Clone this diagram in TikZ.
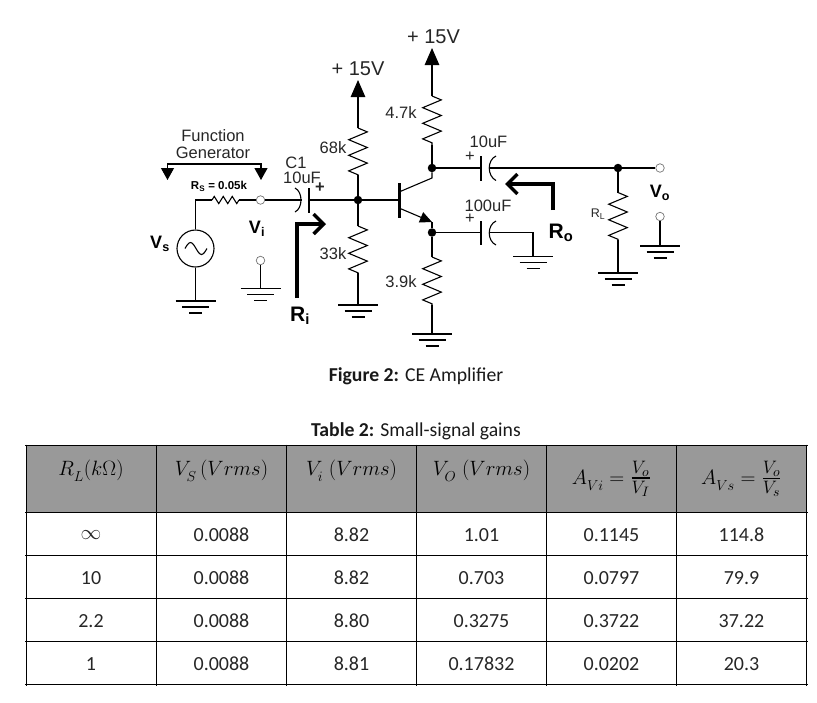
\documentclass[tikz,border=0pt]{standalone}
\usepackage{amsmath}
\usepackage{fontspec}
\setmainfont{Carlito}
\newfontfamily\labfont{Liberation Sans}
\usetikzlibrary{arrows.meta,decorations.pathmorphing}

\newcommand\lowsub[1]{_{\raisebox{-2.5pt}{$\scriptstyle #1$}}}

\tikzset{
  wire/.style={line width=1.1pt,line join=miter},
  res/.style={wire,decorate,decoration={zigzag,segment length=15.6,amplitude=9.3}},
  ressmall/.style={wire,decorate,decoration={zigzag,segment length=9,amplitude=3.6}},
  dot/.style={circle,fill=black,inner sep=0pt,minimum size=8.5pt},
  term/.style={circle,draw=black!55,fill=white,line width=0.7pt,inner sep=0pt,minimum size=8.5pt},
  lab/.style={inner sep=0pt,text=black!85,font=\labfont\fontsize{16.5}{18}\selectfont},
  biglab/.style={inner sep=0pt,text=black!85,font=\labfont\fontsize{20}{22}\selectfont},
  boldlab/.style={inner sep=0pt,font=\labfont\bfseries\fontsize{18}{20}\selectfont},
  rlab/.style={inner sep=0pt,font=\labfont\bfseries\fontsize{21}{23}\selectfont},
  thick arrow/.style={line width=3.6pt,line join=miter,-{Straight Barb[length=10pt,width=20pt,line width=3.4pt]}},
  supply/.style={wire,-{Triangle[length=17pt,width=14.5pt]}},
  cell/.style={inner sep=0pt,text=black!85,font=\fontsize{20}{22}\selectfont},
  headcell/.style={inner sep=0pt,text=black,font=\fontsize{20}{24}\selectfont},
  gaincell/.style={inner sep=0pt,text=black,font=\fontsize{21}{24}\selectfont},
  caption/.style={inner sep=0pt,text=black!90,font=\fontsize{19.7}{22}\selectfont},
  pics/gnd/.style={code={
    \draw[wire] (-20,0) -- (20,0);
    \draw[wire] (-13.5,6) -- (13.5,6);
    \draw[wire] (-6.5,12) -- (6.5,12);
  }},
}

\begin{document}
\begin{tikzpicture}[x=1pt,y=-1pt]
  \useasboundingbox (0,0) rectangle (817,702);

  % source side
  \node (vs) [circle,draw,line width=1.1pt,minimum size=37pt,inner sep=0pt] at (195.5,248.5) {};
  \draw[wire] (185,248.5) sin (190.5,242.5) cos (196,248.5) sin (201.5,254.5) cos (207,248.5);
  \coordinate (corner) at (195.5,200);
  \coordinate (rsa) at (212,200);
  \coordinate (rsb) at (239,200);
  \coordinate (gndvs) at (195.5,301);
  \node (vi1) [term] at (260.5,200) {};
  \node (vi2) [term] at (260.5,260.5) {};
  \coordinate (gndvi) at (260.5,288.5);
  \draw[wire] (vs) -- (corner) -- (rsa);
  \draw[ressmall] (rsa) -- (rsb);
  \draw[wire] (rsb) -- (vi1);
  \draw[wire] (vs) -- (gndvs);
  \draw[wire] (vi2) -- (gndvi);
  \pic at (gndvs) {gnd};
  \pic at (gndvi) {gnd};

  % function generator bracket
  \coordinate (fgl) at (167.5,164);
  \coordinate (fgr) at (261,164);
  \coordinate (fgla) at (167.5,180);
  \coordinate (fgra) at (261,180);
  \draw[wire,{Triangle[length=12pt,width=13pt]}-{Triangle[length=12pt,width=13pt]}] (fgla) -- (fgl) -- (fgr) -- (fgra);

  % input capacitor and bias divider
  \coordinate (c1a) at (302,200);
  \coordinate (c1b) at (309,200);
  \node (j1) [dot] at (358,200) {};
  \draw[wire] (vi1) -- (c1a);
  \draw[wire] (295,188) .. controls (303,192) and (303,208) .. (295,212);
  \draw[wire] (309,188) -- (309,212.5);
  \draw[wire] (c1b) -- (j1);
  \coordinate (tip1) at (358,80);
  \coordinate (r68a) at (358,128);
  \coordinate (r68b) at (358,175);
  \coordinate (r33a) at (358,226);
  \coordinate (r33b) at (358,273);
  \coordinate (gndb) at (358,305);
  \draw[supply] (r68a) -- (tip1);
  \draw[res] (r68a) -- (r68b);
  \draw[wire] (r68b) -- (j1);
  \draw[wire] (j1) -- (r33a);
  \draw[res] (r33a) -- (r33b);
  \draw[wire] (r33b) -- (gndb);
  \pic at (gndb) {gnd};

  % transistor
  \coordinate (base) at (399,200);
  \coordinate (ct) at (399,192);
  \coordinate (et) at (399,208);
  \coordinate (cc) at (432,178);
  \coordinate (ee) at (432,222);
  \draw[wire] (j1) -- (base);
  \draw[line width=3pt] (399,183) -- (399,218);
  \node (j2) [dot] at (432,168) {};
  \node (j3) [dot] at (432,232.5) {};
  \draw[wire] (ct) -- (cc) -- (j2);
  \draw[wire,-{Triangle[length=12pt,width=11pt]}] (et) -- (ee);
  \draw[wire] (ee) -- (j3);

  % collector and emitter legs
  \coordinate (tip2) at (432,48);
  \coordinate (r47a) at (432,96);
  \coordinate (r47b) at (432,145);
  \coordinate (r39a) at (432,257);
  \coordinate (r39b) at (432,305);
  \coordinate (gnde) at (432,334);
  \draw[supply] (r47a) -- (tip2);
  \draw[res] (r47a) -- (r47b);
  \draw[wire] (r47b) -- (j2);
  \draw[wire] (j3) -- (r39a);
  \draw[res] (r39a) -- (r39b);
  \draw[wire] (r39b) -- (gnde);
  \pic at (gnde) {gnd};

  % output capacitor and load
  \coordinate (c2a) at (481,168);
  \coordinate (c2b) at (489,168);
  \node (j4) [dot] at (618,168) {};
  \node (vo1) [term] at (660,168) {};
  \node (vo2) [term] at (660,216.5) {};
  \coordinate (gndvo) at (660,246);
  \draw[wire] (j2) -- (c2a);
  \draw[wire] (481,156) -- (481,180.5);
  \draw[wire] (496,156) .. controls (487,160) and (487,176) .. (496,180.5);
  \draw[wire] (c2b) -- (j4);
  \draw[wire] (j4) -- (vo1);
  \draw[wire] (vo2) -- (gndvo);
  \pic at (gndvo) {gnd};
  \coordinate (rla) at (618,192.5);
  \coordinate (rlb) at (618,240);
  \coordinate (gndl) at (618,273);
  \draw[wire] (j4) -- (rla);
  \draw[res] (rla) -- (rlb);
  \draw[wire] (rlb) -- (gndl);
  \pic at (gndl) {gnd};

  % bypass capacitor
  \coordinate (c3a) at (481,232.5);
  \coordinate (c3b) at (489,232.5);
  \coordinate (c3c) at (533,232.5);
  \coordinate (gndc) at (533,256.5);
  \draw[wire] (j3) -- (c3a);
  \draw[wire] (481,221) -- (481,245);
  \draw[wire] (496,221) .. controls (487,225) and (487,241) .. (496,245);
  \draw[wire] (c3b) -- (c3c) -- (gndc);
  \pic at (gndc) {gnd};

  % looking-in arrows
  \coordinate (ria) at (297,298);
  \coordinate (rib) at (297,224);
  \coordinate (ric) at (326,224);
  \coordinate (roa) at (553,210);
  \coordinate (rob) at (553,184);
  \coordinate (roc) at (505,184);
  \draw[thick arrow] (ria) -- (rib) -- (ric);
  \draw[thick arrow] (roa) -- (rob) -- (roc);

  % circuit labels
  \node (v1) [biglab] at (433.5,37) {+ 15V};
  \node (v2) [biglab] at (358,69) {+ 15V};
  \node (fg1) [lab] at (213,136) {Function};
  \node (fg2) [lab] at (213,153) {Generator};
  \node (rs) [inner sep=0pt,font=\labfont\bfseries\fontsize{11.5}{13}\selectfont] at (219,186) {R\textsubscript{S} = 0.05k};
  \node (c1) [lab] at (296,162.5) {C1};
  \node (c1v) [lab] at (302,178) {10uF};
  \node (c1p) [lab,font=\labfont\bfseries\fontsize{16.5}{18}\selectfont] at (320,188) {+};
  \node (l68) [lab] at (333,148) {68k};
  \node (l33) [lab] at (333,254) {33k};
  \node (l47) [lab] at (401,113) {4.7k};
  \node (l39) [lab] at (401,282) {3.9k};
  \node (c2v) [lab] at (488.5,142) {10uF};
  \node (c2p) [lab] at (470,157) {+};
  \node (c3v) [lab] at (488,205.5) {100uF};
  \node (c3p) [lab] at (470,219) {+};
  \node (lrl) [inner sep=0pt,text=black!85,font=\labfont\fontsize{12.5}{14}\selectfont] at (598,214.5) {R\textsubscript{L}};
  \node (lvs) [boldlab] at (160,244) {V\textsubscript{s}};
  \node (lvi) [boldlab] at (257,229) {V\textsubscript{i}};
  \node (lvo) [boldlab] at (660,193) {V\textsubscript{o}};
  \node (lri) [rlab] at (300,316) {R\textsubscript{i}};
  \node (lro) [rlab] at (561,233) {R\textsubscript{o}};

  % captions
  \node (figcap) [caption] at (416,376) {\textbf{Figure 2:} CE Amplifier};
  \node (tabcap) [caption] at (416,431.5) {\textbf{Table 2:} Small-signal gains};

  % table
  \fill[black!40] (26,445) rectangle (806.5,512);
  \foreach \yy in {445,512,555.5,598.5,641.5,684.5}
    \draw[line width=1pt] (25,\yy) -- (807.5,\yy);
  \foreach \xx in {26,156.5,286.5,416.5,546.5,676.5,806.5}
    \draw[line width=1pt] (\xx,444.5) -- (\xx,686);

  \node (h1) [headcell] at (91,471) {$R\lowsub{L}(k\Omega)$};
  \node (h2) [headcell] at (221.5,471) {$V\lowsub{S}\,(Vrms)$};
  \node (h3) [headcell] at (351.5,471) {$V\lowsub{i}\;(Vrms)$};
  \node (h4) [headcell] at (481.5,471) {$V\lowsub{O}\;(Vrms)$};
  \node (h5) [gaincell] at (611.5,479) {$A\lowsub{Vi}=\scalebox{1.25}{$\frac{V_{o}}{V_{I}}$}$};
  \node (h6) [gaincell] at (741.5,479) {$A\lowsub{Vs}=\scalebox{1.25}{$\frac{V_{o}}{V_{s}}$}$};

  \foreach \rname/\yy/\ca/\cb/\cc/\cd/\ce/\cf in {
      a/535/$\infty$/0.0088/8.82/1.01/0.1145/114.8,
      b/578/10/0.0088/8.82/0.703/0.0797/79.9,
      c/621/2.2/0.0088/8.80/0.3275/0.3722/37.22,
      d/664/1/0.0088/8.81/0.17832/0.0202/20.3}{
    \node (\rname1) [cell] at (91,\yy) {\ca};
    \node (\rname2) [cell] at (221.5,\yy) {\cb};
    \node (\rname3) [cell] at (351.5,\yy) {\cc};
    \node (\rname4) [cell] at (481.5,\yy) {\cd};
    \node (\rname5) [cell] at (611.5,\yy) {\ce};
    \node (\rname6) [cell] at (741.5,\yy) {\cf};
  }
\end{tikzpicture}
\end{document}
